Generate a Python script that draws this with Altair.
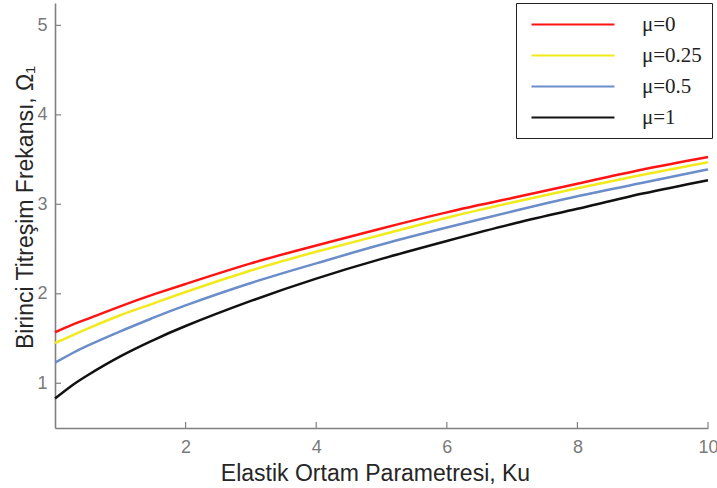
import altair as alt
import pandas as pd

# Elastic foundation parameter Ku
ku = [0, 0.25, 0.5, 1, 1.5, 2, 3, 4, 5, 6, 7, 8, 9, 10]

# First natural frequency Omega_1 for each nonlocal parameter mu
omega_mu0 = [1.57, 1.65, 1.72, 1.86, 1.99, 2.11, 2.34, 2.54, 2.73, 2.91, 3.07, 3.23, 3.39, 3.53]
omega_mu025 = [1.45, 1.53, 1.61, 1.76, 1.89, 2.02, 2.26, 2.47, 2.66, 2.85, 3.02, 3.18, 3.33, 3.47]
omega_mu05 = [1.23, 1.33, 1.42, 1.58, 1.73, 1.87, 2.12, 2.34, 2.55, 2.74, 2.92, 3.09, 3.24, 3.39]
omega_mu1 = [0.83, 0.97, 1.09, 1.30, 1.48, 1.64, 1.92, 2.17, 2.39, 2.59, 2.78, 2.95, 3.12, 3.27]

series_names = ["μ=0", "μ=0.25", "μ=0.5", "μ=1"]
series_colors = ["#ff1414", "#f2ea1a", "#6b8dc9", "#111111"]

y_ticks = [1, 2, 3, 4, 5]
x_ticks = [2, 4, 6, 8, 10]

rows = []
for name, vals in zip(series_names, [omega_mu0, omega_mu025, omega_mu05, omega_mu1]):
    for k, v in zip(ku, vals):
        rows.append({"Ku": k, "Omega": v, "mu": name})
df = pd.DataFrame(rows)

W, H = 653, 425
x_scale = alt.Scale(domain=[0, 10], nice=False, zero=False)
y_scale = alt.Scale(domain=[0.5, 5.25], nice=False, zero=False)

lines = alt.Chart(df).mark_line(strokeWidth=2.5, interpolate="natural").encode(
    x=alt.X(
        "Ku:Q",
        scale=x_scale,
        axis=alt.Axis(
            values=x_ticks,
            format="~g",
            title="Elastik Ortam Parametresi, Ku",
            grid=False,
            tickSize=0,
            labelFlush=False,
            labelPadding=10,
            labelFontSize=18,
            labelColor="#7a7a7a",
            labelFont="Liberation Sans",
            domainColor="#808080",
            domainWidth=1.6,
            titleFont="Liberation Sans",
            titleFontSize=23,
            titleFontWeight="normal",
            titleColor="#262626",
            titleX=320,
            titleY=52,
            titleBaseline="alphabetic",
        ),
    ),
    y=alt.Y(
        "Omega:Q",
        scale=y_scale,
        axis=alt.Axis(
            values=y_ticks,
            format="~g",
            title="Birinci Titreşim Frekansı, Ω₁",
            grid=False,
            tickSize=0,
            labelFlush=False,
            labelPadding=8,
            labelFontSize=18,
            labelColor="#7a7a7a",
            labelFont="Liberation Sans",
            domainColor="#808080",
            domainWidth=1.6,
            titleFont="Liberation Sans",
            titleFontSize=23,
            titleFontWeight="normal",
            titleColor="#262626",
            titleX=-23,
            titleY=204,
            titleBaseline="alphabetic",
        ),
    ),
    color=alt.Color(
        "mu:N",
        sort=series_names,
        scale=alt.Scale(domain=series_names, range=series_colors),
        title=None,
        legend=alt.Legend(
            orient="none",
            legendX=461,
            legendY=0,
            # a long horizontal stroke drawn to the right of the symbol centre
            symbolType="M0,0H8",
            symbolSize=430,
            symbolStrokeWidth=2,
            symbolOffset=-6,
            labelFont="Liberation Serif",
            labelFontSize=21,
            labelColor="#222222",
            labelOffset=99,
            rowPadding=9,
            padding=10,
            strokeColor="#222222",
            fillColor="white",
            cornerRadius=0,
        ),
    ),
)

# inward tick marks on both axes
y_tick_df = pd.DataFrame({"v": y_ticks})
x_tick_df = pd.DataFrame({"v": x_ticks})

y_tick_marks = alt.Chart(y_tick_df).mark_rule(color="#808080", strokeWidth=1.2).encode(
    y=alt.Y("v:Q", scale=y_scale),
    x=alt.value(0),
    x2=alt.value(6),
)
x_tick_marks = alt.Chart(x_tick_df).mark_rule(color="#808080", strokeWidth=1.2).encode(
    x=alt.X("v:Q", scale=x_scale),
    y=alt.value(H),
    y2=alt.value(H - 6),
)

chart = (
    alt.layer(lines, y_tick_marks, x_tick_marks)
    .properties(
        width=W,
        height=H,
        autosize=alt.AutoSizeParams(type="none"),
        padding={"left": 55, "top": 3, "right": 9, "bottom": 60},
        background="white",
    )
    .configure_view(stroke=None)
)

chart.save("out.html", embed_options={"renderer": "svg", "actions": False})
